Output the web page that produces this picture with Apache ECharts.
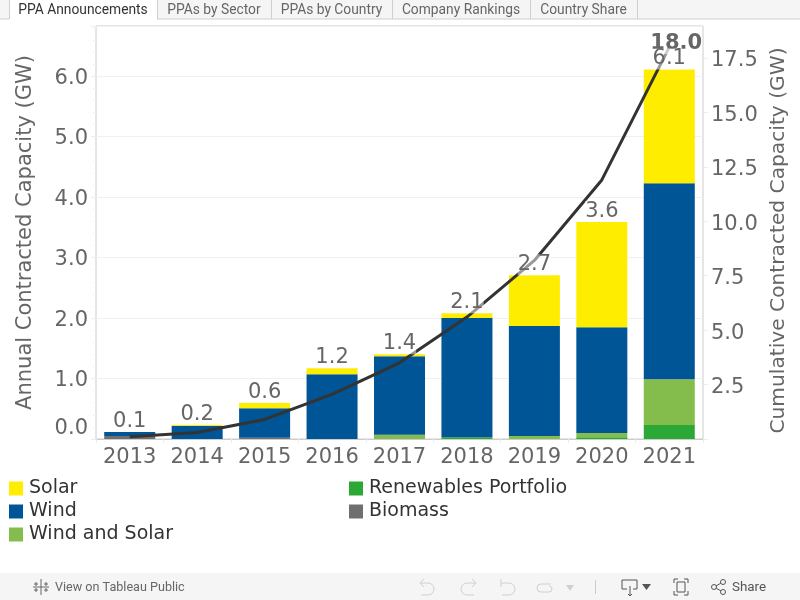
<!DOCTYPE html>
<html><head><meta charset="utf-8">
<style>html,body{margin:0;padding:0;background:#fff}#c{width:800px;height:600px}</style>
<script src="https://cdn.jsdelivr.net/npm/echarts@6/dist/echarts.min.js"></script>
</head><body><div id="c"></div>
<script>
const years = ['2013','2014','2015','2016','2017','2018','2019','2020','2021'];
const biomass = [0.05,0,0.02,0,0,0,0,0,0];
const renewablesPortfolio = [0,0,0,0,0,0.03,0,0.03,0.23];
const windAndSolar = [0,0,0,0,0.07,0,0.05,0.07,0.76];
const wind = [0.065,0.215,0.49,1.07,1.30,1.97,1.82,1.75,3.24];
const solar = [0,0.015,0.085,0.10,0.03,0.08,0.84,1.74,1.88];
const totals = [0.115,0.23,0.595,1.17,1.40,2.08,2.71,3.59,6.11];
const totalLabels = ['0.1','0.2','0.6','1.2','1.4','2.1','2.7','3.6','6.1'];
const cumulative = [0.1,0.3,0.9,2.05,3.5,5.6,8.2,11.9,18.0];
const tabs = ['PPA Announcements','PPAs by Sector','PPAs by Country','Company Rankings','Country Share'];

const G = '#666666';
const FONT = 'DejaVu Sans';
function bar(name, data, color){
  return {name, type:'bar', stack:'a', data, barWidth:51, itemStyle:{color}, z:2};
}
const tabX = [9,157,271,392,530,637];
const chrome = [
  {type:'rect',shape:{x:0,y:0,width:800,height:19},style:{fill:'#f5f5f5'},silent:true},
  {type:'line',shape:{x1:0,y1:19,x2:800,y2:19},style:{stroke:'#cfcfcf',lineWidth:1}},
  {type:'rect',shape:{x:9,y:0,width:148,height:20},style:{fill:'#fff'}},
  {type:'rect',shape:{x:0,y:573,width:800,height:27},style:{fill:'#f5f5f5'}}
];
tabX.forEach(x=>chrome.push({type:'line',shape:{x1:x+.5,y1:0,x2:x+.5,y2:19},style:{stroke:'#cfcfcf',lineWidth:1}}));
tabs.forEach((t,i)=>chrome.push({type:'text',x:(tabX[i]+tabX[i+1])/2,y:11,style:{text:t,fill:i==0?'#333':'#666',font:'13.8px Roboto',textAlign:'center',textVerticalAlign:'middle'}}));
function pl(points,color,w){
  return {type:'polyline',shape:{points},style:{fill:null,stroke:color||'#d0d0d0',lineWidth:w||1}};
}
function tri(points,color){
  return {type:'polygon',shape:{points},style:{fill:color,stroke:null}};
}
function ar(cx,cy,r,a,b,color){
  return {type:'arc',shape:{cx,cy,r,startAngle:a,endAngle:b},style:{fill:null,stroke:color||'#d0d0d0',lineWidth:1}};
}
const H = Math.PI/2;
chrome.push(
  pl([[41,579],[41,595]],'#666'), pl([[33,587],[49,587]],'#666'),
  pl([[36,582],[36,586]],'#666'), pl([[34,584],[38,584]],'#666'),
  pl([[46,582],[46,586]],'#666'), pl([[44,584],[48,584]],'#666'),
  pl([[36,588],[36,592]],'#666'), pl([[34,590],[38,590]],'#666'),
  pl([[46,588],[46,592]],'#666'), pl([[44,590],[48,590]],'#666'),
  {type:'text',x:55,y:588,style:{text:'View on Tableau Public',fill:'#666',font:'12.6px Roboto',textVerticalAlign:'middle'}},
  pl([[424,579],[420,583],[424,587]]), pl([[420,583],[428,583]]), pl([[428,595],[421,595]]), ar(428,589,6,-H,H),
  pl([[472,579],[476,583],[472,587]]), pl([[476,583],[467,583]]), pl([[467,595],[474,595]]), ar(467,589,6,H,3*H),
  pl([[501,579],[501,587]]), pl([[501,583],[509,583]]), pl([[509,595],[502,595]]), ar(509,589,6,-H,H),
  pl([[551,584],[541,584]]), pl([[541,592],[549,592]]), ar(541,588,4,H,3*H), ar(549,589,3,-H,H),
  tri([[566,585],[574,585],[570,591]],'#d0d0d0'),
  pl([[595.5,580],[595.5,594]],'#cccccc'),
  pl([[627,589],[622,589],[622,580],[637,580],[637,589],[633,589]],'#555'),
  pl([[630,586],[630,596]],'#555'), pl([[628,594],[630,596],[632,594]],'#555'),
  tri([[642,584],[651,584],[646.5,590]],'#555'),
  pl([[674,583],[674,579],[678,579]],'#555'), pl([[684,579],[688,579],[688,583]],'#555'),
  pl([[688,591],[688,595],[684,595]],'#555'), pl([[678,595],[674,595],[674,591]],'#555'),
  {type:'rect',shape:{x:677,y:582,width:8,height:10},style:{fill:null,stroke:'#555',lineWidth:1}},
  pl([[723,582],[714,587],[723,592]],'#555'),
  {type:'circle',shape:{cx:714,cy:587,r:2.5},style:{fill:'#f5f5f5',stroke:'#555'}},
  {type:'circle',shape:{cx:723,cy:582,r:2.5},style:{fill:'#f5f5f5',stroke:'#555'}},
  {type:'circle',shape:{cx:723,cy:592,r:2.5},style:{fill:'#f5f5f5',stroke:'#555'}},
  {type:'text',x:732,y:588,style:{text:'Share',fill:'#555',font:'13.4px Roboto',textVerticalAlign:'middle'}}
);
const legendCommon = {orient:'vertical',itemWidth:14,itemHeight:14,itemGap:4,icon:'rect',selectedMode:false,padding:0,
  textStyle:{fontFamily:FONT,fontSize:19,color:'#333',padding:[0,0,0,1]}};
const chart = echarts.init(document.getElementById('c'));
chart.setOption({
  animation:false,
  backgroundColor:'#fff',
  textStyle:{fontFamily:FONT},
  graphic:{elements:chrome},
  legend:[
    Object.assign({},legendCommon,{left:9,top:479,data:['Solar','Wind','Wind and Solar']}),
    Object.assign({},legendCommon,{left:349,top:479,data:['Renewables Portfolio','Biomass']})
  ],
  grid:{left:96,right:97,top:26,bottom:161,outerBoundsMode:'none',show:true,borderColor:'#cccccc',borderWidth:1,backgroundColor:'#fff'},
  xAxis:{type:'category',data:years,
    axisLine:{lineStyle:{color:'#cccccc'}},
    axisTick:{show:true,length:4,lineStyle:{color:'#eeeeee'}},
    axisLabel:{fontSize:21,color:G,margin:8,fontFamily:FONT,interval:0}},
  yAxis:[
    {type:'value',min:0,max:6.83,interval:1,position:'left',
     name:'Annual Contracted Capacity (GW)',nameLocation:'middle',nameGap:60,nameRotate:90,
     nameTextStyle:{fontSize:21,color:G,fontFamily:FONT},
     axisLine:{show:false},
     axisTick:{show:true,length:5,lineStyle:{color:'#eeeeee'}},
     minorTick:{show:true,splitNumber:5,length:3,lineStyle:{color:'#f0f0f0'}},
     splitLine:{show:true,lineStyle:{color:'#f0f0f0'}},
     axisLabel:{margin:8,showMaxLabel:false,verticalAlignMinLabel:'bottom',
       rich:{t:{fontSize:21,color:G,fontFamily:FONT,padding:[4,0,0,0]}},
       formatter:v=>'{t|'+v.toFixed(1)+'}'}},
    {type:'value',min:0,max:18.97,interval:2.5,position:'right',
     name:'Cumulative Contracted Capacity (GW)',nameLocation:'middle',nameGap:64,nameRotate:90,
     nameTextStyle:{fontSize:20.2,color:G,fontFamily:FONT,padding:[0,16,0,0]},
     axisLine:{show:false},
     axisTick:{show:true,length:5,lineStyle:{color:'#eeeeee'}},
     splitLine:{show:false},
     axisLabel:{margin:8,showMaxLabel:false,
       rich:{t:{fontSize:21,color:G,fontFamily:FONT,padding:[6,0,0,0]}},
       formatter:v=>v===0?'':'{t|'+v.toFixed(1)+'}'}}
  ],
  series:[
    bar('Biomass',biomass,'#6f6f6f'),
    bar('Renewables Portfolio',renewablesPortfolio,'#2ca837'),
    bar('Wind and Solar',windAndSolar,'#84bd4b'),
    bar('Wind',wind,'#005596'),
    bar('Solar',solar,'#ffed00'),
    {name:'Cumulative',type:'line',yAxisIndex:1,data:cumulative.map((v,i)=>i===cumulative.length-1?{value:v,
        label:{show:true,formatter:v.toFixed(1),position:'top',offset:[7,12],fontSize:21,fontWeight:'bold',color:G,fontFamily:FONT,
          backgroundColor:'rgba(255,255,255,0.5)',lineHeight:21}}:v),
      symbol:'circle',symbolSize:0,z:3,lineStyle:{color:'#333333',width:3},itemStyle:{color:'#333333'}},
    {name:'Total',type:'line',data:totals,symbol:'circle',symbolSize:0,z:5,
      lineStyle:{opacity:0},itemStyle:{color:'transparent'},
      label:{show:true,position:'top',distance:0,fontSize:21,color:G,fontFamily:FONT,
        backgroundColor:'rgba(255,255,255,0.5)',lineHeight:21,
        formatter:p=>totalLabels[p.dataIndex]}}
  ]
});
</script></body></html>
